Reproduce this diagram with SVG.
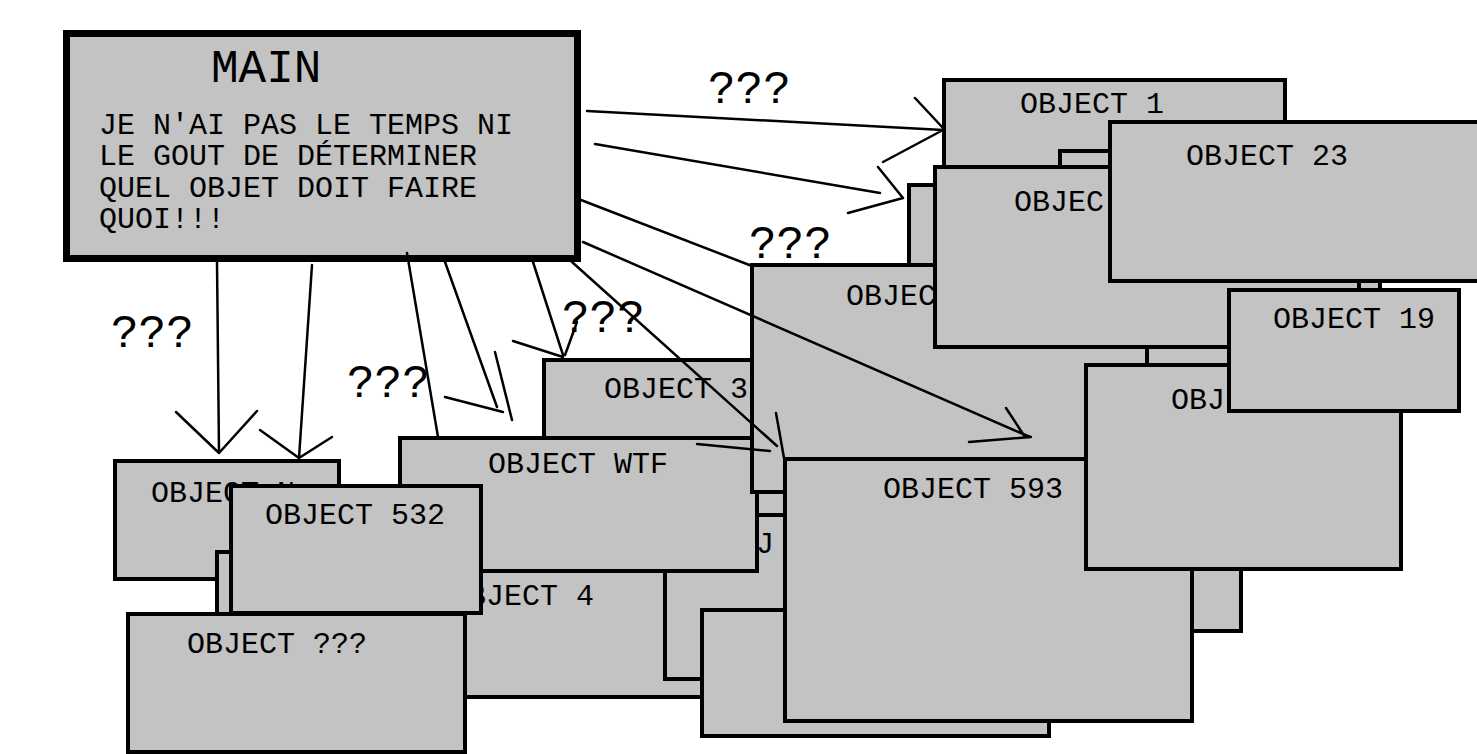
<svg xmlns="http://www.w3.org/2000/svg" width="1477" height="754" viewBox="0 0 1477 754">
<style>
.box{fill:#c3c3c3;stroke:#000;stroke-width:4}
.main{fill:#c3c3c3;stroke:#000;stroke-width:7}
.t{font-family:"Liberation Mono","DejaVu Sans Mono",monospace;font-size:30px;fill:#000}
.big{font-family:"Liberation Mono","DejaVu Sans Mono",monospace;font-size:46px;fill:#000}
.c{stroke:#000;stroke-width:2.5;fill:none;stroke-linecap:round}
</style>
<rect width="1477" height="754" fill="#fff"/>
<g id="main">
<rect class="main" x="66.5" y="33.5" width="511" height="225"/>
<text class="big" x="211" y="82">MAIN</text>
<text class="t" x="99" y="134">JE N'AI PAS LE TEMPS NI</text>
<text class="t" x="99" y="165">LE GOUT DE DÉTERMINER</text>
<text class="t" x="99" y="197">QUEL OBJET DOIT FAIRE</text>
<text class="t" x="99" y="228">QUOI!!!</text>
</g>
<g id="object-1">
<rect class="box" x="944" y="80" width="341" height="168"/>
<text class="t" x="1020" y="113">OBJECT 1</text>
</g>
<g id="object-b1060">
<rect class="box" x="1060" y="151" width="320" height="167"/>
</g>
<g id="object-b907">
<rect class="box" x="909" y="185" width="332" height="446"/>
</g>
<g id="object-3">
<rect class="box" x="544" y="360" width="254" height="178"/>
<text class="t" x="604" y="398">OBJECT 3</text>
</g>
<g id="object-4">
<rect class="box" x="422" y="542" width="296" height="155"/>
<text class="t" x="450" y="605">OBJECT 4</text>
</g>
<g id="object-b666">
<rect class="box" x="665" y="515" width="233" height="164"/>
<text class="t" x="720" y="553">OBJ</text>
</g>
<g id="object-wtf">
<rect class="box" x="400" y="438" width="357" height="133"/>
<text class="t" x="488" y="473">OBJECT WTF</text>
</g>
<g id="object-big">
<rect class="box" x="752" y="265" width="395" height="227"/>
<text class="t" x="846" y="305">OBJEC</text>
</g>
<g id="object-933">
<rect class="box" x="935" y="167" width="424" height="180"/>
<text class="t" x="1014" y="211">OBJEC</text>
</g>
<g id="object-23">
<rect class="box" x="1110" y="122" width="380" height="159"/>
<text class="t" x="1186" y="165">OBJECT 23</text>
</g>
<g id="object-b703">
<rect class="box" x="702" y="610" width="347" height="126"/>
</g>
<g id="object-593">
<rect class="box" x="785" y="459" width="407" height="262"/>
<text class="t" x="883" y="498">OBJECT 593</text>
</g>
<g id="object-1087">
<rect class="box" x="1086" y="365" width="315" height="204"/>
<text class="t" x="1171" y="409">OBJ</text>
</g>
<g id="object-19">
<rect class="box" x="1229" y="290" width="230" height="121"/>
<text class="t" x="1273" y="328">OBJECT 19</text>
</g>
<g id="object-x">
<rect class="box" x="115" y="461" width="224" height="118"/>
<text class="t" x="151" y="502">OBJECT N</text>
</g>
<g id="object-b216">
<rect class="box" x="217" y="552" width="181" height="126"/>
</g>
<g id="object-532">
<rect class="box" x="231" y="486" width="250" height="127"/>
<text class="t" x="265" y="524">OBJECT 532</text>
</g>
<g id="object-unknown">
<rect class="box" x="128" y="614" width="337" height="138"/>
<text class="t" x="187" y="653">OBJECT ???</text>
</g>
<g id="connectors">
<path class="c" d="M587,111 L943,130 M915,98 L943,128 M883,162 L943,130"/>
<path class="c" d="M595,144 L880,193 M878,167 L903,198 M848,213 L903,198"/>
<path class="c" d="M581,200 L752,266"/>
<path class="c" d="M583,242 L1030,437 M1006,408 L1025,437 M969,442 L1031,437"/>
<path class="c" d="M572,262 L777,446 M776,413 L784,458 M697,444 L770,451"/>
<path class="c" d="M533,262 L563,355 M513,341 L563,357 M577,322 L565,355"/>
<path class="c" d="M445,262 L497,407 M495,352 L512,420 M445,397 L503,412"/>
<path class="c" d="M407,253 L438,437"/>
<path class="c" d="M217,262 L219,453 M176,412 L219,453 M257,411 L219,453"/>
<path class="c" d="M312,265 L299,458 M260,430 L299,458 M332,437 L299,458"/>
</g>
<g id="labels">
<text class="big" x="708" y="103">???</text>
<text class="big" x="749" y="258">???</text>
<text class="big" x="111" y="347">???</text>
<text class="big" x="347" y="397">???</text>
<text class="big" x="562" y="332">???</text>
</g>
</svg>
